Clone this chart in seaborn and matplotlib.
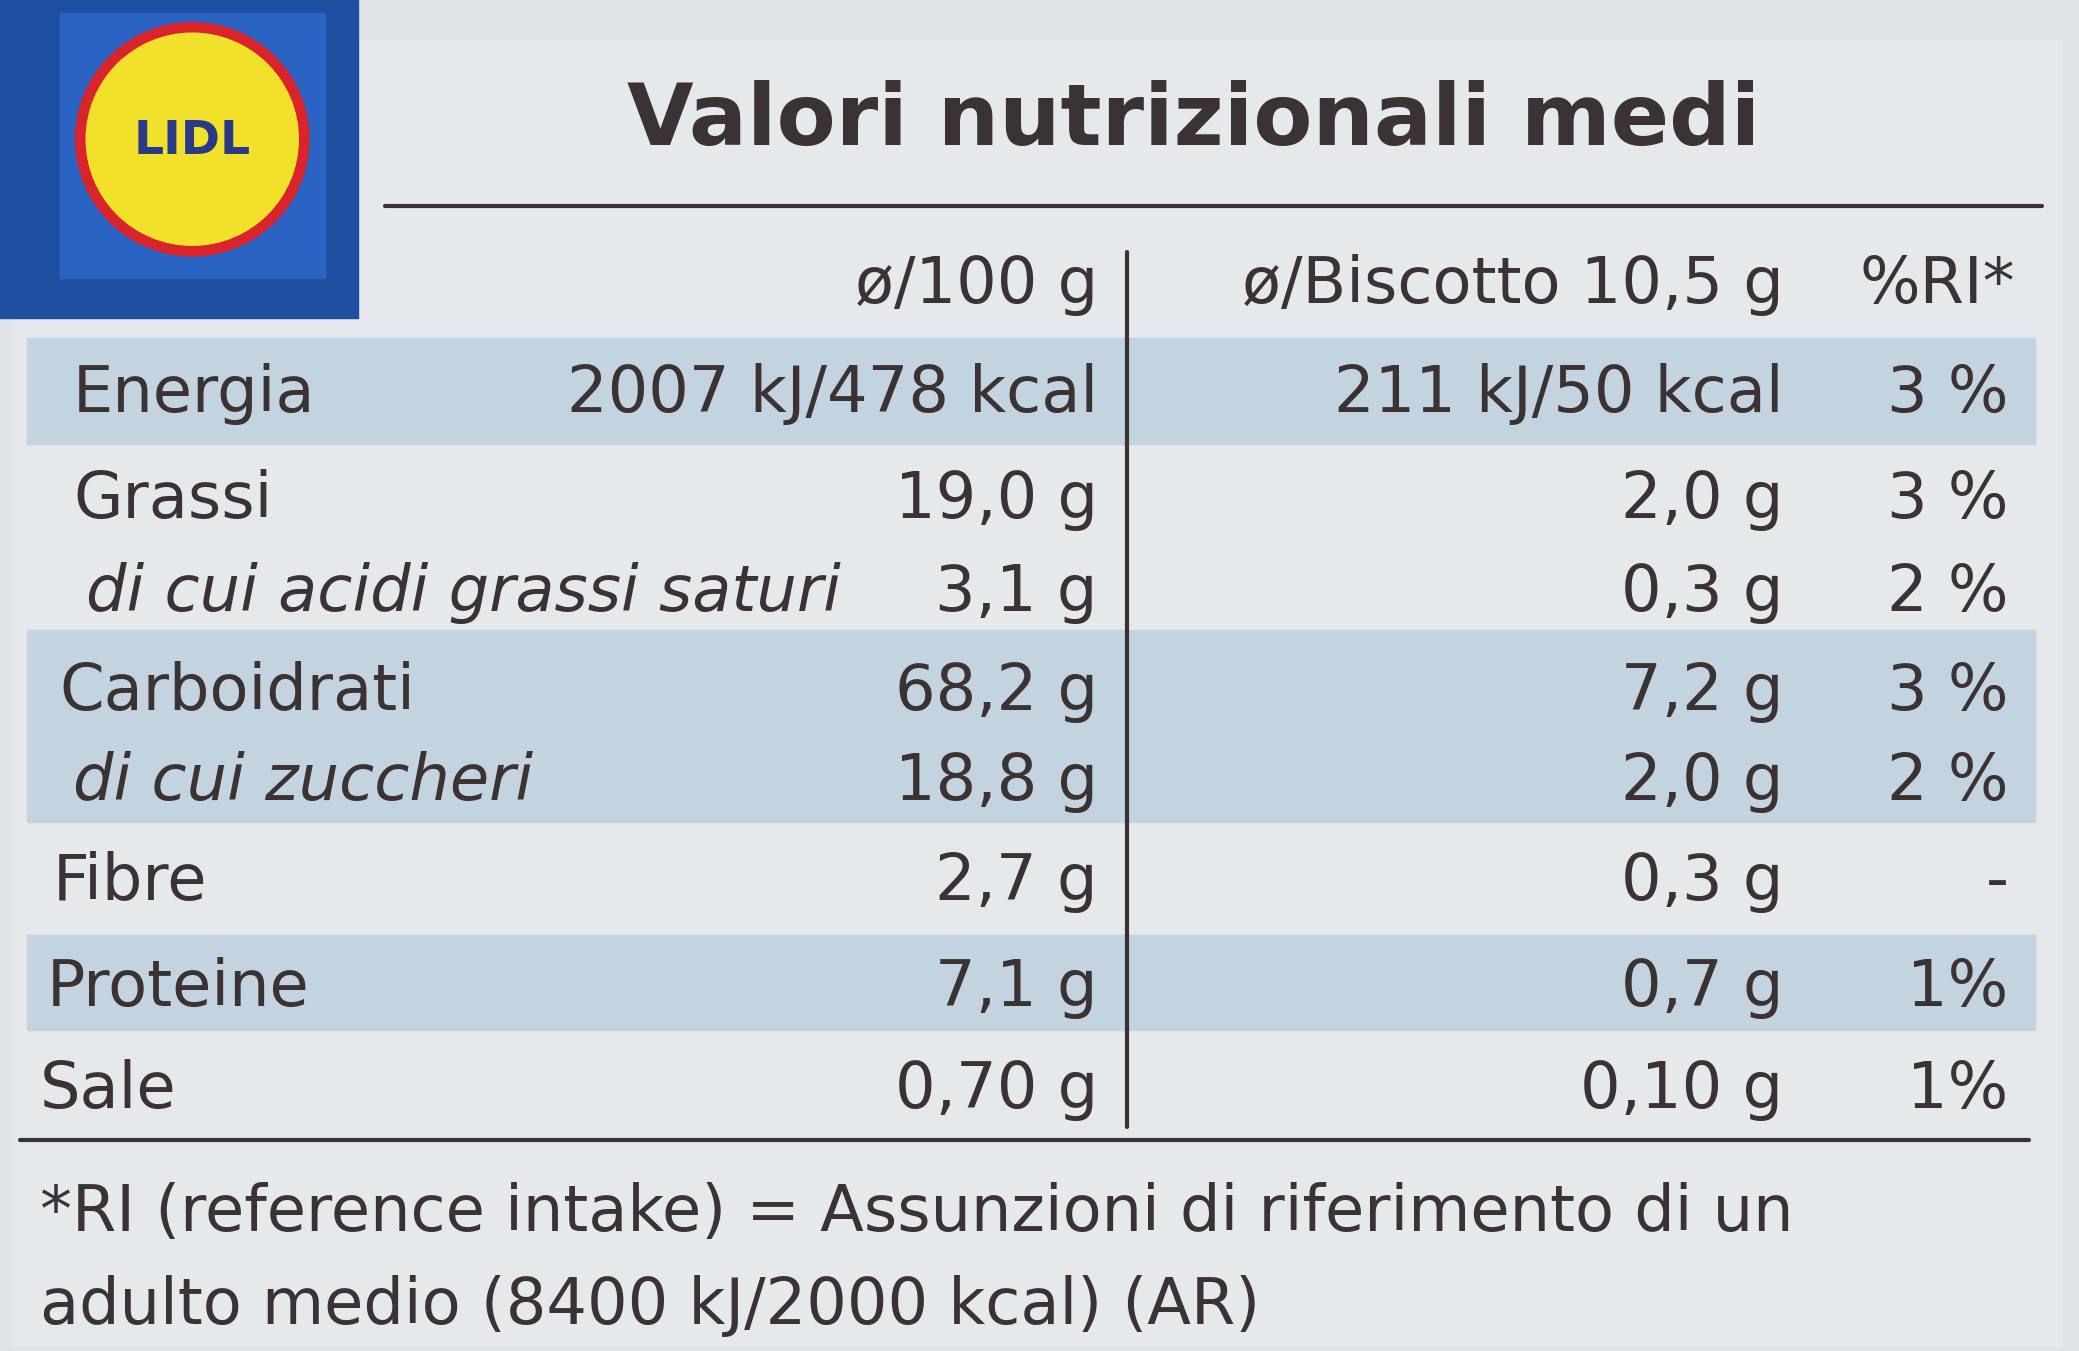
import matplotlib
matplotlib.use("Agg")
import matplotlib.pyplot as plt
import seaborn as sns
from matplotlib.patches import Circle, Rectangle

sns.set_theme(style="white")
plt.rcParams['font.family'] = ['Liberation Sans Narrow', 'DejaVu Sans']

title = "Valori nutrizionali medi"
headers = ["ø/100 g", "ø/Biscotto 10,5 g", "%RI*"]
nutrients = ["Energia", "Grassi", "di cui acidi grassi saturi", "Carboidrati",
             "di cui zuccheri", "Fibre", "Proteine", "Sale"]
per_100g = ["2007 kJ/478 kcal", "19,0 g", "3,1 g", "68,2 g", "18,8 g", "2,7 g", "7,1 g", "0,70 g"]
per_biscuit = ["211 kJ/50 kcal", "2,0 g", "0,3 g", "7,2 g", "2,0 g", "0,3 g", "0,7 g", "0,10 g"]
ri = ["3 %", "3 %", "2 %", "3 %", "2 %", "-", "1%", "1%"]
italic = [False, False, True, False, True, False, False, False]
indent = [55, 55, 65, 45, 55, 40, 35, 30]
row_y = [297, 377, 447, 522, 590, 665, 745, 822]
bands = [(255, 335), (475, 620), (705, 777)]
footnote = ["*RI (reference intake) = Assunzioni di riferimento di un",
            "adulto medio (8400 kJ/2000 kcal) (AR)"]

W, H = 1568, 1019
fig = plt.figure(figsize=(20.79, 13.51), dpi=100)
ax = fig.add_axes([0, 0, 1, 1])
ax.set_xlim(0, W)
ax.set_ylim(H, 0)
ax.axis("off")
fig.patch.set_facecolor("#dfe3e6")

ink = "#3a3233"
# table background
ax.add_patch(Rectangle((10, 30), 1545, 985, color="#e6e9eb", zorder=0))
for a, b in bands:
    ax.add_patch(Rectangle((20, a), 1515, b - a, color="#c3d3e0", zorder=1))

# logo
ax.add_patch(Rectangle((0, 0), 270, 240, color="#1f4fa0", zorder=3))
ax.add_patch(Rectangle((45, 10), 200, 200, color="#2a63c4", zorder=3))
ax.add_patch(Circle((145, 105), 88, color="#d8242a", zorder=4))
ax.add_patch(Circle((145, 105), 80, color="#f2e12a", zorder=5))
ax.text(145, 107, "LIDL", ha="center", va="center", color="#2a3a8a",
        fontsize=34, fontweight="bold", zorder=6, family=["DejaVu Sans"])

ax.text(900, 92, title, ha="center", va="center", color=ink, fontsize=62,
        fontweight="bold", zorder=6)
ax.plot([290, 1540], [155, 155], color=ink, lw=3, zorder=6)
ax.plot([850, 850], [190, 850], color=ink, lw=3, zorder=6)
ax.plot([15, 1530], [860, 860], color=ink, lw=3, zorder=6)

fs = 46
ax.text(828, 215, headers[0], ha="right", va="center", color=ink, fontsize=fs, zorder=6)
ax.text(1345, 215, headers[1], ha="right", va="center", color=ink, fontsize=fs, zorder=6)
ax.text(1520, 215, headers[2], ha="right", va="center", color=ink, fontsize=fs, zorder=6)

for i, n in enumerate(nutrients):
    y = row_y[i]
    ax.text(indent[i], y, n, ha="left", va="center", color=ink, fontsize=fs,
            style="italic" if italic[i] else "normal", zorder=6)
    ax.text(828, y, per_100g[i], ha="right", va="center", color=ink, fontsize=fs, zorder=6)
    ax.text(1345, y, per_biscuit[i], ha="right", va="center", color=ink, fontsize=fs, zorder=6)
    ax.text(1515, y, ri[i], ha="right", va="center", color=ink, fontsize=fs, zorder=6)

ax.text(30, 915, footnote[0], ha="left", va="center", color=ink, fontsize=fs, zorder=6)
ax.text(30, 985, footnote[1], ha="left", va="center", color=ink, fontsize=fs, zorder=6)

fig.savefig("out.png", dpi=100, facecolor=fig.get_facecolor())
